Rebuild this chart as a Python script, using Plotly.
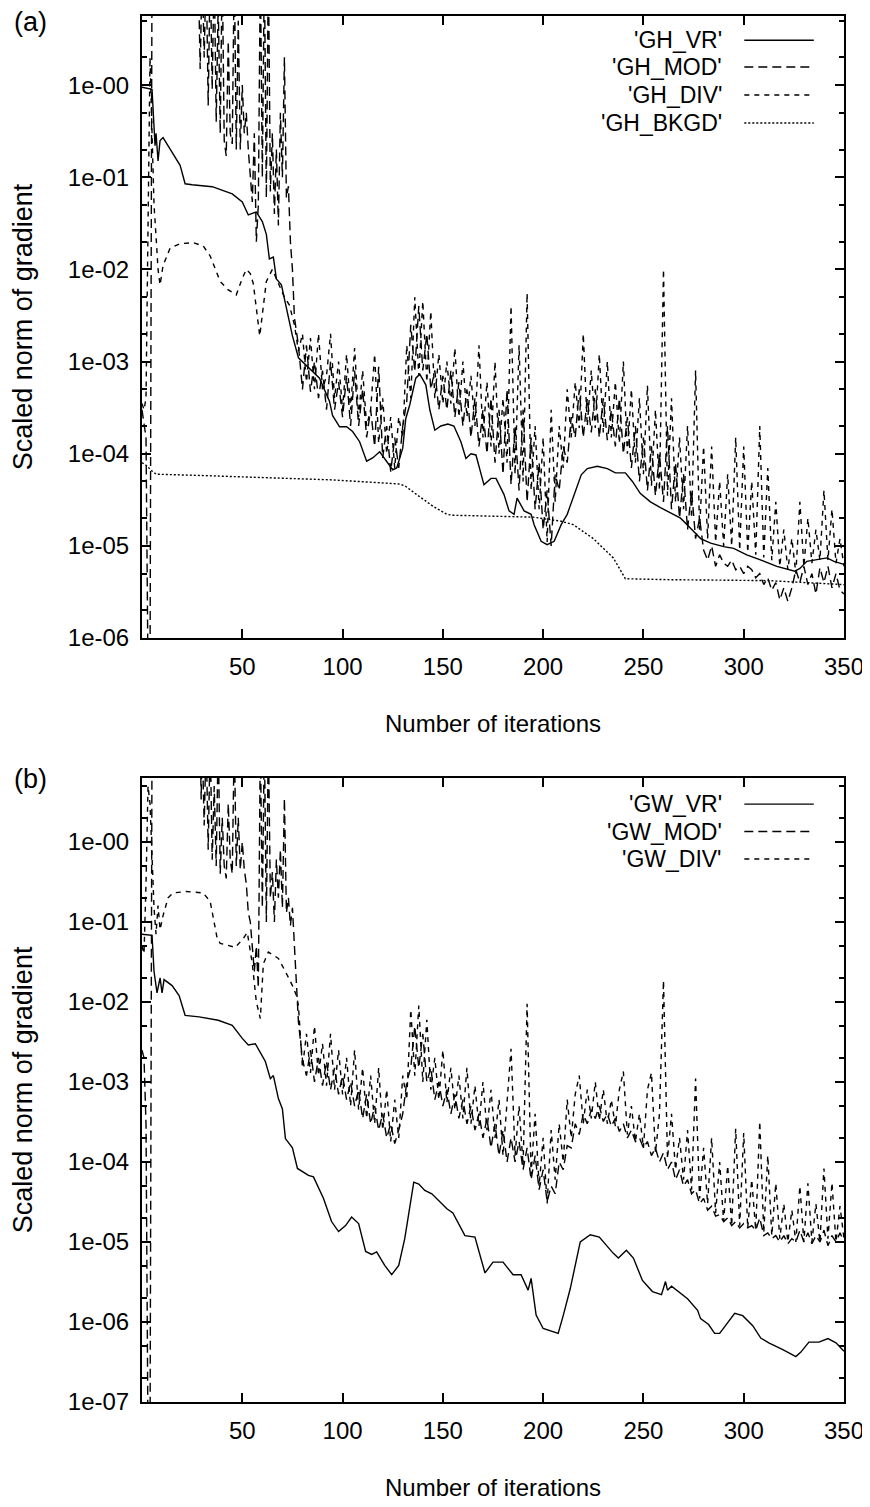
import plotly.graph_objects as go

FONT = "Liberation Sans, Arial, Helvetica, sans-serif"

# ------------------------------------------------------------------
# Panel (a)
# ------------------------------------------------------------------
gh_names = ["'GH_VR'", "'GH_MOD'", "'GH_DIV'", "'GH_BKGD'"]

gh_vr_x = [0, 5, 6.5, 7, 8, 9, 10.5, 14, 19, 21.5, 25, 35, 45, 50, 53, 57, 60, 62,
           63.5, 65.5, 67, 69.5, 72, 75, 78, 82, 85, 88.5, 93.5, 95, 98.5, 102, 105,
           108.5, 112, 115, 118.5, 122, 125, 127, 128.5, 130, 131.5, 133.5, 136.5,
           138.5, 141.5, 143.5, 146, 149, 152.5, 155.5, 159, 161.5, 164, 166.5, 170.5,
           174, 176.5, 180.5, 183, 185.5, 187, 190.5, 194, 195.5, 199, 202, 205.5, 209,
           212, 215.5, 219, 222, 227, 232, 236, 241, 244.5, 248.5, 253.5, 258.5, 263.5,
           268.5, 273.5, 278.5, 283.5, 290, 295, 301.5, 308, 316.5, 325.5, 328, 331.5,
           336.5, 341.5, 345, 350]
gh_vr_y = [0.95, 0.9, 0.22, 0.3, 0.15, 0.25, 0.27, 0.2, 0.135, 0.085, 0.083, 0.079,
           0.066, 0.054, 0.039, 0.042, 0.033, 0.024, 0.013, 0.0136, 0.0079, 0.0068,
           0.0037, 0.0019, 1.1e-3, 9e-4, 7.8e-4, 6.6e-4, 3.7e-4, 2.6e-4, 1.96e-4,
           1.96e-4, 1.74e-4, 1.35e-4, 8.3e-5, 9e-5, 1.05e-4, 8.3e-5, 6.7e-5, 7e-5, 9e-5,
           1.15e-4, 2.4e-4, 3.4e-4, 6.6e-4, 7.3e-4, 5.6e-4, 3.0e-4, 1.8e-4, 2.0e-4,
           2.1e-4, 2.0e-4, 1.35e-4, 8.9e-5, 1.0e-4, 9.7e-5, 4.6e-5, 5.4e-5, 5.4e-5,
           3.6e-5, 2.4e-5, 2.2e-5, 3.3e-5, 2.4e-5, 2.2e-5, 1.7e-5, 1.12e-5, 1.03e-5,
           1.12e-5, 1.7e-5, 2.2e-5, 3.6e-5, 5.9e-5, 6.9e-5, 7.3e-5, 6.9e-5, 6.2e-5,
           6.2e-5, 5.0e-5, 3.7e-5, 3.0e-5, 2.6e-5, 2.3e-5, 2.0e-5, 1.55e-5, 1.2e-5,
           1.07e-5, 9.8e-6, 9.4e-6, 8.0e-6, 7.1e-6, 6.0e-6, 5.3e-6, 5.7e-6, 6.8e-6,
           7.1e-6, 7.4e-6, 6.8e-6, 6.3e-6]

gh_mod_early_x = [0, 1, 2, 3, 4, 5, 28, 29, 30, 31, 32, 33, 34, 35, 36, 37, 38, 39, 40,
                  41, 42, 43, 44, 45, 46, 47, 48, 49, 50, 51, 52, 53, 54, 55, 56, 57, 58,
                  59, 60, 61, 62, 63, 64, 65, 66, 67, 68, 69, 70, 71, 72, 73, 74, 75, 76]
gh_mod_early_y = [3e-4, 2e-4, 1.5e-4, 4e-7, 4e-7, 20, 20, 1.5, 20, 2, 20, 0.6, 20, 0.9,
                  20, 0.4, 8, 0.3, 20, 0.25, 0.17, 3, 0.3, 0.23, 20, 0.2, 5, 0.2, 1, 0.3,
                  0.5, 0.2, 0.1, 0.054, 0.3, 0.02, 0.05, 20, 0.1, 20, 0.06, 20, 0.07, 0.3,
                  0.04, 0.2, 0.03, 0.5, 0.1, 2, 0.06, 0.08, 0.02, 0.01, 0.003]
gh_band_x = list(range(78, 351, 2))
gh_mod_band_y = [
    1.5e-3, 5e-4, 1.5e-3, 4.7e-4, 1e-3, 4e-4, 8e-4, 3e-4, 1e-3, 3e-4,
    6e-4, 2.5e-4, 7e-4, 2e-4, 8e-4, 2e-4, 5e-4, 1.5e-4, 3e-4, 1.2e-4,
    8.8e-4, 9e-5, 2e-4, 6.4e-5, 1.5e-4, 7e-5, 2e-4, 3.7e-4, 2.5e-3, 7.8e-4,
    4e-3, 8e-4, 2e-3, 5e-4, 8e-4, 3e-4, 7e-4, 3e-4, 8e-4, 2.5e-4,
    6e-4, 2e-4, 5e-4, 1.5e-4, 4e-4, 1.2e-4, 3e-4, 1e-4, 4e-4, 8e-5,
    3e-4, 6e-5, 5e-4, 4.6e-5, 2e-4, 4e-5, 3e-4, 3e-5, 1.5e-4, 2.5e-5,
    8e-5, 1.5e-5, 4e-5, 1e-5, 6e-5, 4e-5, 1.2e-4, 8e-5, 2.5e-4, 1.5e-4,
    5e-4, 1.5e-4, 4e-4, 1.7e-4, 5e-4, 1.5e-4, 4e-4, 1.4e-4, 3e-4, 1.2e-4,
    4e-4, 1e-4, 2.5e-4, 7e-5, 2e-4, 5e-5, 1.5e-4, 4e-5, 1.2e-4, 3.5e-5,
    1e-4, 3e-5, 2e-4, 2.5e-5, 8e-5, 2e-5, 6e-5, 1.5e-5, 4e-5, 1.2e-5,
    2e-5, 9e-6, 7e-6, 1e-5, 6e-6, 8e-6, 6.5e-6, 6e-6, 7e-6, 5.5e-6,
    6e-6, 5e-6, 6e-6, 5.5e-6, 4.5e-6, 5e-6, 3.8e-6, 4.5e-6, 3.3e-6, 4e-6,
    2.6e-6, 3.5e-6, 2.5e-6, 3.5e-6, 5.5e-6, 4e-6, 6e-6, 3.8e-6, 5e-6, 3e-6,
    5.8e-6, 4e-6, 6e-6, 3.5e-6, 5e-6, 3.3e-6, 3e-6]

gh_div_early_x = [0, 1, 2, 3, 4, 5, 6, 7, 8, 9, 10.5, 14, 19, 25.5, 30.5, 34, 39, 43, 47,
                  50, 52, 54, 55.5, 58.7, 62, 65, 68.5, 71, 73.5, 76]
gh_div_early_y = [3.5e-4, 3e-4, 4e-4, 0.05, 2, 0.3, 0.05, 0.023, 0.01, 0.0068, 0.011,
                  0.017, 0.019, 0.0195, 0.018, 0.014, 0.0074, 0.006, 0.0053, 0.008, 0.01,
                  0.009, 0.007, 0.0019, 0.0074, 0.01, 0.0068, 0.005, 0.0041, 0.0025]
gh_div_band_y = [
    1.3e-3, 2e-3, 6e-4, 1.8e-3, 5e-4, 2e-3, 5e-4, 7e-4, 2e-3, 4e-4,
    1e-3, 3e-4, 1.2e-3, 3e-4, 1.4e-3, 2.5e-4, 8e-4, 2e-4, 3e-4, 1.2e-3,
    1.3e-4, 4e-4, 1e-4, 2.5e-4, 7e-5, 2.5e-4, 1.5e-4, 1.5e-3, 4e-4, 5e-3,
    7e-4, 4.5e-3, 6e-4, 3.5e-3, 4e-4, 1.2e-3, 3.5e-4, 1e-3, 3.5e-4, 1.4e-3,
    2.5e-4, 1e-3, 2.5e-4, 7e-4, 2e-4, 1.5e-3, 1.5e-4, 6e-4, 1.2e-4, 1e-3,
    1e-4, 4e-4, 8e-5, 4e-3, 6e-5, 1.5e-3, 5e-5, 5.5e-3, 4e-5, 2e-4,
    2.5e-5, 1.5e-4, 1.1e-5, 3e-4, 3e-5, 2e-4, 7e-5, 5e-4, 1.5e-4, 6e-4,
    1.9e-4, 2e-3, 2e-4, 8e-4, 1.9e-4, 1.2e-3, 1.7e-4, 1e-3, 1.5e-4, 6e-4,
    1.3e-4, 1e-3, 1e-4, 5e-4, 8e-5, 4e-4, 6e-5, 5.5e-4, 4.5e-5, 3e-4,
    4e-5, 1e-2, 3.5e-5, 4e-4, 3e-5, 1.5e-4, 2.5e-5, 2e-4, 2e-5, 8e-4,
    1.5e-5, 1.2e-4, 1.2e-5, 1.2e-4, 1.1e-5, 5e-5, 1e-5, 6e-5, 1e-5, 1.5e-4,
    9e-6, 1.2e-4, 8.5e-6, 5e-5, 8e-6, 2e-4, 7.5e-6, 7e-5, 7e-6, 3e-5,
    6e-6, 1.5e-5, 5.5e-6, 1.2e-5, 5e-6, 3e-5, 6e-6, 2e-5, 6.5e-6, 1.5e-5,
    7e-6, 4e-5, 7e-6, 2.5e-5, 6.5e-6, 1.2e-5, 6e-6]

gh_bkgd_x = [0, 2, 5, 7, 30, 62, 95, 128, 131, 137, 145, 152, 155, 195, 209, 215, 225,
             235, 241, 262, 312, 350]
gh_bkgd_y = [8e-5, 7.5e-5, 6.5e-5, 6e-5, 5.8e-5, 5.5e-5, 5.2e-5, 4.7e-5, 4.5e-5, 3.6e-5,
             2.7e-5, 2.2e-5, 2.15e-5, 2.05e-5, 1.85e-5, 1.7e-5, 1.2e-5, 7.4e-6, 4.4e-6,
             4.3e-6, 4.2e-6, 3.8e-6]

# ------------------------------------------------------------------
# Panel (b)
# ------------------------------------------------------------------
gw_names = ["'GW_VR'", "'GW_MOD'", "'GW_DIV'"]

gw_vr_x = [0, 5, 6, 7.5, 9, 10, 11, 15, 18.5, 21.5, 28.5, 38, 45, 50, 53, 56.5, 60, 61.5,
           64, 65.5, 68, 70, 71.5, 75, 77.5, 83, 85.5, 90.5, 94.5, 98, 101.5, 104.5, 108,
           111.5, 114.5, 117, 121, 124.5, 128, 131, 135.5, 138, 141, 144.5, 152, 155, 161,
           166, 171, 175, 180, 185, 189, 192.5, 194, 196.5, 200, 203.5, 207.5, 210, 213.5,
           218.5, 223.5, 228, 235, 237.5, 241.5, 245, 249.5, 254.5, 259, 261, 262, 264,
           272, 277, 278.5, 282.5, 285.5, 288, 291.5, 295.5, 299.5, 304.5, 308.5, 312.5,
           319.5, 326, 328.5, 332.5, 337.5, 342, 346, 350]
gw_vr_y = [0.07, 0.068, 0.024, 0.013, 0.02, 0.013, 0.019, 0.016, 0.012, 0.0068, 0.0065,
           0.0059, 0.0051, 0.0035, 0.0029, 0.003, 0.0021, 0.0018, 0.0011, 0.0012, 6.2e-4,
           4.6e-4, 1.96e-4, 1.5e-4, 8.3e-5, 6.8e-5, 6.5e-5, 3.5e-5, 1.8e-5, 1.35e-5,
           1.6e-5, 2.05e-5, 1.7e-5, 7.6e-6, 7e-6, 7.5e-6, 5.1e-6, 3.9e-6, 5.1e-6, 1.1e-5,
           5.6e-5, 5.3e-5, 4.4e-5, 4e-5, 2.6e-5, 2.3e-5, 1.2e-5, 1.15e-5, 4.1e-6, 5.6e-6,
           5.6e-6, 3.9e-6, 3.9e-6, 2.5e-6, 3.5e-6, 1.22e-6, 8.3e-7, 7.7e-7, 7.2e-7, 1.2e-6,
           2.6e-6, 1e-5, 1.23e-5, 1.15e-5, 7.2e-6, 6.3e-6, 7.9e-6, 6.3e-6, 3.3e-6, 2.4e-6,
           2.2e-6, 3.2e-6, 2.5e-6, 2.8e-6, 1.95e-6, 1.4e-6, 1.1e-6, 9.3e-7, 7.2e-7, 7.2e-7,
           9.3e-7, 1.28e-6, 1.2e-6, 9e-7, 6.3e-7, 5.5e-7, 4.5e-7, 3.7e-7, 4.2e-7, 5.6e-7,
           5.6e-7, 6.2e-7, 5.5e-7, 4.3e-7]

gw_mod_early_x = [0, 1, 2, 3, 4, 5, 29, 29.5, 30, 31, 32, 33, 34, 35, 36, 37, 38, 39, 40,
                  41, 42, 43, 44, 45, 46, 47, 48, 49, 50, 51, 52, 53, 54, 55, 56, 57, 58,
                  59, 60, 61, 62, 63, 64, 65, 66, 67, 68, 69, 70, 71, 72, 73, 74, 75, 76,
                  77, 78]
gw_mod_early_y = [2.5e-3, 2e-3, 3e-4, 3e-8, 3e-8, 20, 20, 3.4, 20, 1.6, 20, 0.8, 20, 0.6,
                  5, 0.5, 20, 0.4, 2, 0.5, 0.35, 3, 0.6, 0.4, 20, 0.5, 2, 0.45, 1, 0.45,
                  0.3, 0.13, 0.1, 0.05, 0.024, 0.05, 0.015, 20, 0.15, 20, 0.1, 20, 0.2,
                  0.42, 0.1, 0.6, 0.2, 0.8, 0.15, 3.5, 0.13, 0.2, 0.09, 0.15, 0.05, 0.024,
                  0.0056]
gw_mod_band_x = list(range(80, 351, 2))
gw_mod_band_y = [
    1.9e-3, 1.2e-3, 2.5e-3, 1e-3, 2e-3, 9e-4, 1.8e-3, 8e-4, 1.5e-3, 7e-4,
    1.2e-3, 6e-4, 1e-3, 5e-4, 8e-4, 3.5e-4, 7e-4, 3e-4, 5e-4, 2.5e-4,
    4e-4, 2e-4, 3e-4, 1.7e-4, 2.5e-4, 4e-4, 1e-3, 1.5e-3, 5e-3, 1.5e-3,
    4e-3, 1e-3, 1.5e-3, 6e-4, 1e-3, 5e-4, 8e-4, 4e-4, 7e-4, 3.5e-4,
    6e-4, 3e-4, 5e-4, 2.5e-4, 4e-4, 2e-4, 3.5e-4, 1.5e-4, 3e-4, 1.2e-4,
    2.5e-4, 1e-4, 2e-4, 1e-4, 1.8e-4, 8e-5, 1.5e-4, 6e-5, 1.2e-4, 4.5e-5,
    8e-5, 3.2e-5, 5e-5, 4e-5, 1e-4, 8e-5, 1.6e-4, 1.5e-4, 3e-4, 2.2e-4,
    4e-4, 3e-4, 4.5e-4, 3.5e-4, 5e-4, 3.2e-4, 4e-4, 2.8e-4, 3.5e-4, 2.4e-4,
    3e-4, 2e-4, 2.5e-4, 1.8e-4, 2e-4, 1.5e-4, 1.8e-4, 1.2e-4, 1.5e-4, 1e-4,
    1.3e-4, 8e-5, 1e-4, 6e-5, 8e-5, 5e-5, 6e-5, 4e-5, 4.5e-5, 3e-5,
    3.5e-5, 2.5e-5, 2.8e-5, 2.1e-5, 2.2e-5, 1.8e-5, 2e-5, 1.6e-5, 1.8e-5, 1.5e-5,
    1.7e-5, 1.5e-5, 1.6e-5, 1.4e-5, 2e-5, 1.2e-5, 1.3e-5, 1.1e-5, 1.2e-5, 1e-5,
    1.2e-5, 9.5e-6, 1.1e-5, 1e-5, 1.4e-5, 1e-5, 1.3e-5, 9.5e-6, 1.2e-5, 1e-5,
    1.4e-5, 9e-6, 1.2e-5, 1e-5, 1.3e-5, 1e-5]

gw_div_early_x = [0, 1, 2, 3, 4, 5, 6, 7, 8, 9, 10.5, 13, 15.5, 22, 30.5, 34, 37.5, 39,
                  46.5, 50.5, 52.5, 55, 57, 59, 60.5, 63, 68, 71.5, 75, 77]
gw_div_early_y = [0.05, 0.04, 0.3, 5, 3, 0.5, 0.15, 0.07, 0.16, 0.08, 0.12, 0.2, 0.23,
                  0.24, 0.23, 0.18, 0.062, 0.054, 0.048, 0.062, 0.074, 0.03, 0.01, 0.0062,
                  0.03, 0.042, 0.035, 0.024, 0.016, 0.012]
gw_div_band_x = list(range(78, 351, 2))
gw_div_band_y = [
    9e-3, 1.5e-3, 4e-3, 1.3e-3, 5e-3, 1.2e-3, 3e-3, 9e-4, 4e-3, 8e-4,
    2.5e-3, 7e-4, 2e-3, 5e-4, 2.5e-3, 4.5e-4, 1.5e-3, 3.5e-4, 1.2e-3, 3e-4,
    1.5e-3, 2.5e-4, 8e-4, 1.8e-4, 6e-4, 2e-4, 1.2e-3, 6e-4, 8e-3, 1.2e-3,
    9e-3, 1e-3, 6e-3, 8e-4, 2e-3, 6e-4, 2.5e-3, 5.5e-4, 1.5e-3, 4.5e-4,
    1.2e-3, 3.5e-4, 1.5e-3, 3e-4, 9e-4, 2.8e-4, 1e-3, 2.5e-4, 8e-4, 2e-4,
    6e-4, 1.2e-4, 5e-4, 2.6e-3, 1.2e-4, 5e-4, 9e-5, 9.5e-3, 7e-5, 4e-4,
    5e-5, 2e-4, 3e-5, 2.5e-4, 6e-5, 3e-4, 1e-4, 6e-4, 2e-4, 7e-4,
    1.2e-3, 3e-4, 8e-4, 3.5e-4, 1e-3, 3.3e-4, 8e-4, 3e-4, 6e-4, 2.8e-4,
    8e-4, 1.35e-3, 2.2e-4, 5e-4, 1.8e-4, 4e-4, 1.5e-4, 8e-4, 1.3e-3, 1.3e-4,
    4e-4, 1.85e-2, 1.1e-4, 4e-4, 8e-5, 2e-4, 6e-5, 2.5e-4, 4.5e-5, 1.1e-3,
    3.5e-5, 1.5e-4, 3e-5, 2e-4, 2.3e-5, 1e-4, 1.8e-5, 9e-5, 1.6e-5, 2.6e-4,
    1.6e-5, 2.3e-4, 1.5e-5, 6e-5, 1.4e-5, 3.2e-4, 1.3e-5, 1.2e-4, 1.2e-5, 5.4e-5,
    1.1e-5, 3e-5, 1e-5, 2.5e-5, 1e-5, 5e-5, 1e-5, 5.4e-5, 1e-5, 3e-5,
    1e-5, 8.3e-5, 1.1e-5, 5.5e-5, 1e-5, 2.8e-5, 1.1e-5]

# axis ticks / labels
x_ticks = [50, 100, 150, 200, 250, 300, 350]
ya_exps = [-6, -5, -4, -3, -2, -1, 0]
yb_exps = [-7, -6, -5, -4, -3, -2, -1, 0]

# ------------------------------------------------------------------
DASHES = ["solid", "9px,5px", "5px,5px", "2px,2px"]
LW = 1.4

fig = go.Figure()

def add(x, y, dash, xa, ya, name):
    fig.add_trace(go.Scatter(x=x, y=y, mode="lines", name=name, showlegend=False,
                             line=dict(color="black", width=LW, dash=dash),
                             xaxis=xa, yaxis=ya, hoverinfo="skip"))

add(gh_vr_x, gh_vr_y, DASHES[0], "x", "y", gh_names[0])
add(gh_mod_early_x + gh_band_x, gh_mod_early_y + gh_mod_band_y, DASHES[1], "x", "y", gh_names[1])
add(gh_div_early_x + gh_band_x, gh_div_early_y + gh_div_band_y, DASHES[2], "x", "y", gh_names[2])
add(gh_bkgd_x, gh_bkgd_y, DASHES[3], "x", "y", gh_names[3])

add(gw_vr_x, gw_vr_y, DASHES[0], "x2", "y2", gw_names[0])
add(gw_mod_early_x + gw_mod_band_x, gw_mod_early_y + gw_mod_band_y, DASHES[1], "x2", "y2", gw_names[1])
add(gw_div_early_x + gw_div_band_x, gw_div_early_y + gw_div_band_y, DASHES[2], "x2", "y2", gw_names[2])

def lbl(e):
    return "1e-%02d" % (-e)

def minor_vals(exps):
    out = []
    for e in range(exps[0], exps[-1] + 1):
        out += [2 * 10.0 ** e, 5 * 10.0 ** e]
    return out

tickfont = dict(family=FONT, size=24, color="black")

def xaxis(anchor):
    return dict(anchor=anchor, domain=[0, 1], range=[0, 350], tickvals=x_ticks,
                ticks="inside", ticklen=9, tickwidth=2, tickcolor="black",
                mirror="ticks", showline=True, linewidth=2, linecolor="black",
                showgrid=False, zeroline=False, tickfont=tickfont,
                ticklabelstandoff=6,
                title=dict(text="Number of iterations",
                           font=dict(family=FONT, size=24, color="black"), standoff=36))

def yaxis(anchor, domain, exps, top):
    return dict(anchor=anchor, domain=domain, type="log", range=[exps[0], top],
                tickvals=[10.0 ** e for e in exps], ticktext=[lbl(e) for e in exps],
                ticks="inside", ticklen=9, tickwidth=2, tickcolor="black",
                minor=dict(tickvals=minor_vals(exps), ticks="inside", ticklen=5,
                           tickwidth=1.5, tickcolor="black", showgrid=False),
                mirror="ticks", showline=True, linewidth=2, linecolor="black",
                showgrid=False, zeroline=False, tickfont=tickfont,
                ticklabelstandoff=6,
                title=dict(text="Scaled norm of gradient",
                           font=dict(family=FONT, size=27, color="black"), standoff=28))

# the page body has an 8px margin, so the figure is 8px smaller than the window
fig.update_layout(
    width=862, height=1499,
    margin=dict(l=134, r=25, t=6, b=105),
    paper_bgcolor="white", plot_bgcolor="white",
    font=dict(family=FONT, color="black"),
    xaxis=xaxis("y"),
    yaxis=yaxis("x", [0.5512, 1.0], ya_exps, 0.75),
    xaxis2=xaxis("y2"),
    yaxis2=yaxis("x2", [0.0, 0.4503], yb_exps, 0.8),
)

# panel letters
for letter, yy in (("(a)", 0.9957), ("(b)", 0.4496)):
    fig.add_annotation(text=letter, xref="paper", yref="paper", x=-0.159, y=yy,
                       xanchor="center", yanchor="middle", showarrow=False,
                       font=dict(family=FONT, size=27, color="black"))

# gnuplot-style key: label right-aligned, sample line to its right
def key(names, xref, yref, rows):
    for name, dash, yy in zip(names, DASHES, rows):
        fig.add_annotation(text=name, xref=xref, yref=yref, x=0.829, y=yy,
                           xanchor="right", yanchor="middle", showarrow=False,
                           font=dict(family=FONT, size=23, color="black"))
        fig.add_shape(type="line", xref=xref, yref=yref, x0=0.858, x1=0.957,
                      y0=yy, y1=yy, line=dict(color="black", width=LW, dash=dash))

key(gh_names, "x domain", "y domain", [0.961, 0.918, 0.873, 0.828])
key(gw_names, "x2 domain", "y2 domain", [0.958, 0.914, 0.870])

fig.write_html("out.html", config={"displayModeBar": False})
